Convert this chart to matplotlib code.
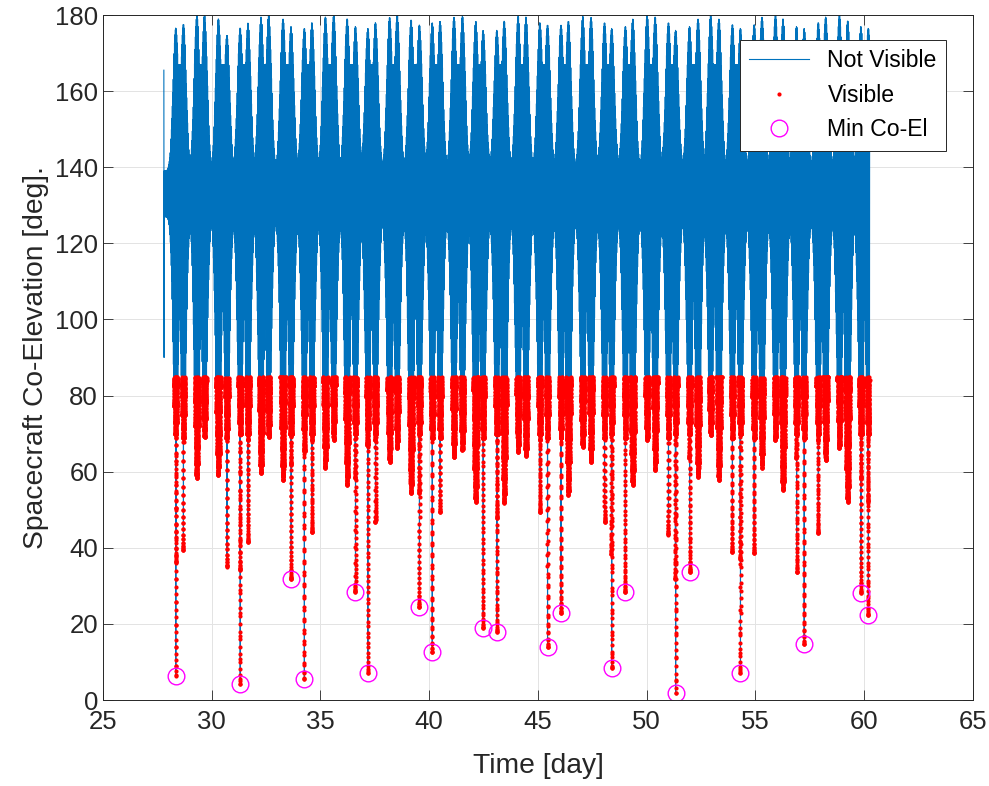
import numpy as np
import matplotlib
matplotlib.use("Agg")
import matplotlib.pyplot as plt

plt.rcParams['font.family'] = ['Liberation Sans', 'DejaVu Sans']

# visibility columns: pass time [day], lowest co-elevation [deg]
# and the highest co-elevation reached next to it [deg]
col_t = [28.35, 28.70, 29.32, 29.67, 30.31, 30.70, 31.31, 31.67, 32.27, 32.62,
         33.28, 33.65, 34.26, 34.61, 35.23, 35.61, 36.23, 36.61, 37.18, 37.53,
         38.18, 38.53, 39.17, 39.55, 40.14, 40.50, 41.14, 41.53, 42.14, 42.48,
         43.11, 43.45, 44.09, 44.45, 45.09, 45.44, 46.06, 46.40, 47.06, 47.44,
         48.06, 48.39, 49.02, 49.36, 50.02, 50.39, 51.00, 51.33, 51.97, 52.36,
         52.94, 53.32, 53.94, 54.31, 54.94, 55.30, 55.92, 56.27, 56.89, 57.24,
         57.89, 58.23, 58.86, 59.24, 59.85, 60.19]
col_min = [6.3, 39.4, 58.3, 69.1, 59.1, 35.0, 4.2, 41.5, 59.6, 69.1,
           57.8, 31.8, 5.5, 44.1, 61.0, 68.3, 56.5, 28.4, 7.1, 46.8,
           62.5, 66.2, 54.4, 24.4, 12.6, 49.4, 63.8, 65.7, 52.0, 18.9,
           17.9, 51.8, 65.2, 64.1, 49.4, 13.9, 22.9, 53.9, 66.5, 62.5,
           46.8, 8.4, 28.4, 56.5, 68.3, 60.4, 43.4, 1.8, 33.6, 58.6,
           69.6, 57.8, 38.9, 7.1, 38.6, 61.0, 68.3, 55.2, 33.6, 14.7,
           43.9, 63.0, 66.2, 52.0, 28.1, 22.3]
col_top = [176.6, 177.6, 180.0, 180.0, 179.0, 174.7, 176.6, 177.9, 179.5, 180.0,
           179.0, 177.0, 176.5, 178.0, 179.5, 180.0, 179.0, 177.0, 176.5, 178.0,
           179.4, 180.0, 178.7, 177.4, 178.0, 178.4, 179.5, 179.7, 178.4, 176.0,
           176.0, 178.4, 179.7, 179.5, 178.0, 177.4, 177.4, 178.4, 179.7, 179.4,
           178.0, 176.5, 177.0, 179.0, 180.0, 179.5, 178.0, 176.0, 177.0, 179.0,
           180.0, 179.0, 177.5, 176.5, 177.5, 179.5, 180.0, 179.0, 177.0, 176.5,
           178.0, 179.5, 180.0, 178.5, 177.0, 176.5]

# passes marked as minimum co-elevation
min_t = [28.35, 31.31, 33.65, 34.26, 36.61, 37.18, 39.55, 40.14, 42.48, 43.11,
         45.44, 46.06, 48.39, 49.02, 51.33, 51.97, 54.31, 57.24, 59.85, 60.19]
min_v = [6.3, 4.2, 31.8, 5.5, 28.4, 7.1, 24.4, 12.6, 18.9, 17.9,
         13.9, 22.9, 8.4, 28.4, 1.8, 33.6, 7.1, 14.7, 28.1, 22.3]

lead_t = [27.80, 27.81]
lead_v = [165.5, 90.0]
t_end = 60.25
band_lo, band_hi = 127.0, 139.0
lobe_level = 167.0
vis_lim = 85.0

xticks = list(range(25, 70, 5))
yticks = list(range(0, 200, 20))


def pass_curve(theta, lo, hi):
    p = np.radians((180 - hi - lo) / 2)
    q = np.radians((180 - hi + lo) / 2)
    c = np.sin(p) * np.sin(q) + np.cos(p) * np.cos(q) * np.cos(theta)
    return np.degrees(np.arccos(np.clip(c, -1, 1)))


# orbit by orbit: lowest and highest co-elevation of each revolution
period = 0.02
step = 1.0 / 5760.0
t_orb = np.arange(lead_t[-1] + period / 2, t_end, period)
for tc in col_t:
    t_orb[np.abs(t_orb - tc).argmin()] = tc

ct = np.array(col_t)
cm = np.array(col_min)
cu = np.array(col_top)
lobe_c = (ct[0::2] + ct[1::2]) / 2

d = t_orb[:, None] - ct[None, :]
floor = np.where(cm > 50, cm, 68.0)
block = band_lo - (band_lo - floor) * np.exp(-(d / 0.17) ** 2)
spike = cm + 3000.0 * np.abs(d)
low = np.minimum(np.minimum(block, spike).min(axis=1), band_lo)

t_max = np.append((t_orb[:-1] + t_orb[1:]) / 2, t_orb[-1] + period / 2)
du = t_max[:, None] - ct[None, :]
peaks = band_hi + (cu - band_hi) * np.exp(-(du / 0.18) ** 2)
dl = np.abs(t_max[:, None] - lobe_c[None, :])
body = band_hi + (lobe_level - band_hi) * np.exp(-(dl / 0.37) ** 3.5)
high = np.maximum(np.maximum(peaks.max(axis=1), body.max(axis=1)), band_hi)

ts = [np.array(lead_t)]
vs = [np.array(lead_v)]
prev_t, prev_hi = t_orb[0] - period / 2, high[0]
for k in range(len(t_orb)):
    a, b, c = prev_t, t_orb[k], t_max[k]
    g1 = np.arange(np.floor(a / step) + 1, np.ceil(b / step)) * step
    g2 = np.arange(np.floor(b / step) + 1, np.ceil(c / step)) * step
    v1 = pass_curve(np.pi * (b - g1) / (b - a), low[k], prev_hi)
    v2 = pass_curve(np.pi * (g2 - b) / (c - b), low[k], high[k])
    ts += [np.array([a]), g1, np.array([b]), g2]
    vs += [np.array([prev_hi]), v1, np.array([low[k]]), v2]
    prev_t, prev_hi = c, high[k]

t = np.concatenate(ts)
v = np.concatenate(vs)
vis = v < vis_lim

fig = plt.figure(figsize=(9.89, 7.86), dpi=100)
ax = fig.add_axes([0.1041, 0.1094, 0.8797, 0.8715])

ax.plot(t, v, color='#0072BD', lw=0.8, label='Not Visible')
ax.plot(t[vis], v[vis], 'o', color='red', ms=3.0, mew=0, ls='none', label='Visible')
ax.plot(min_t, min_v, 'o', mfc='none', mec='magenta', ms=12, mew=1.0, ls='none',
        label='Min Co-El')

ax.set_xlim(25, 65)
ax.set_ylim(0, 180)
ax.set_xticks(xticks)
ax.set_yticks(yticks)
ax.grid(True, color='#E3E3E3', lw=0.7)
ax.set_axisbelow(True)
ax.tick_params(direction='in', length=7, width=0.6, top=True, right=True,
               labelsize=18.5, colors='#262626')
ax.tick_params(axis='x', pad=7)
for s in ax.spines.values():
    s.set_color('#262626')
    s.set_linewidth(0.7)

ax.set_xlabel('Time [day]', fontsize=20.3, color='#262626', labelpad=14)
ax.set_ylabel('Spacecraft Co-Elevation [deg].', fontsize=20.3, color='#262626')

leg = ax.legend(loc='upper right', bbox_to_anchor=(0.969, 0.9635), borderaxespad=0,
                fontsize=16.6, fancybox=False, framealpha=1, edgecolor='#262626',
                handlelength=2.6, numpoints=1)
leg.get_frame().set_linewidth(0.7)

fig.savefig('out.png', dpi=100)
